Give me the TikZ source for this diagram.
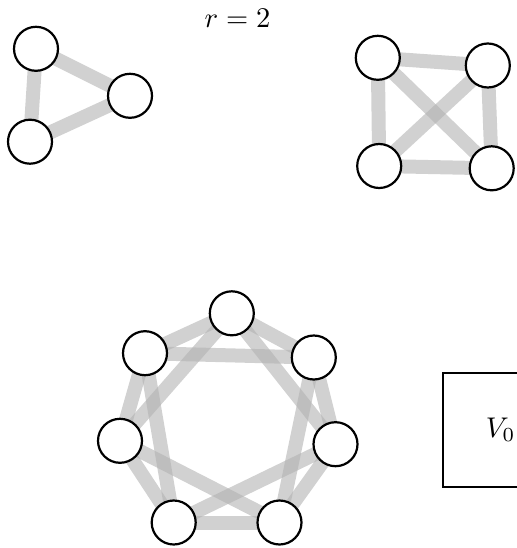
\documentclass[tikz,border=0pt]{standalone}
\usepackage{tikz}
\usetikzlibrary{backgrounds,shapes}

\tikzset{
    vertex/.style = {circle, draw, fill=white, line width=2.2pt, minimum size=44pt, inner sep=0pt},
    edge/.style = {line width=14pt, black!30, opacity=0.6},
    partbox/.style = {rectangle, draw, line width=2.2pt, minimum size=114.6pt, inner sep=0pt},
    bigmath/.style = {scale=2.85}
}

\begin{document}
\begin{tikzpicture}[x=1pt, y=-1pt]

\useasboundingbox (0,0) rectangle (516,548);

\node[bigmath] (rlabel) at (237.5,18) {$r=2$};

% triangle
\foreach \name/\x/\y in {
t0/36/48.8,
t1/130/95.8,
t2/30/141.7
}
{
    \node[vertex] (\name) at (\x,\y) {};
}

% square
\foreach \name/\x/\y in {
q0/377.8/57.8,
q1/487.8/65.5,
q2/491.7/168.3,
q3/379.2/166
}
{
    \node[vertex] (\name) at (\x,\y) {};
}

% heptagon
\foreach \name/\x/\y in {
h0/231.8/313.3,
h1/313.8/357.5,
h2/335.5/444.2,
h3/279.5/522.5,
h4/173.7/522.5,
h5/120/440.8,
h6/145/353.2
}
{
    \node[vertex] (\name) at (\x,\y) {};
}

\node[partbox] (vzero) at (500.6,430) {};
\node[bigmath] (vlabel) at (vzero.center) {$V_0$};

\begin{scope}[on background layer]
    \foreach \a/\b in {t0/t1, t1/t2, t2/t0}
        \draw[edge] (\a.center) -- (\b.center);
    \foreach \a/\b in {q0/q1, q1/q2, q2/q3, q3/q0, q0/q2, q1/q3}
        \draw[edge] (\a.center) -- (\b.center);
    \foreach \i in {0,...,6}
    {
        \pgfmathtruncatemacro{\j}{mod(\i+1,7)}
        \pgfmathtruncatemacro{\k}{mod(\i+2,7)}
        \draw[edge] (h\i.center) -- (h\j.center);
        \draw[edge] (h\i.center) -- (h\k.center);
    }
\end{scope}

\end{tikzpicture}
\end{document}
